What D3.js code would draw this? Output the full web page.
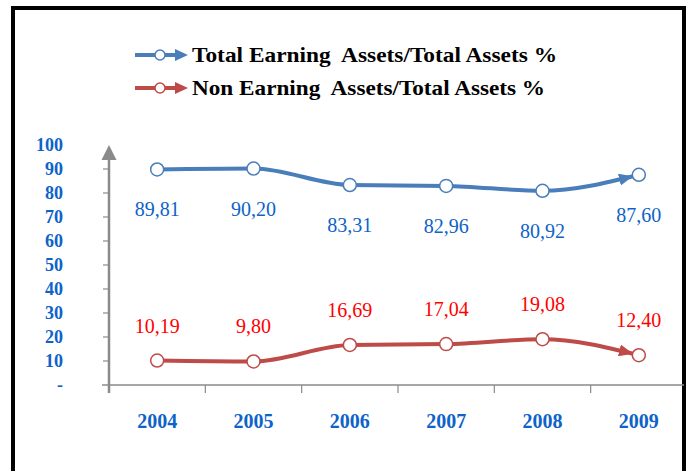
<!DOCTYPE html>
<html>
<head>
<meta charset="utf-8">
<script src="https://cdn.jsdelivr.net/npm/d3@7"></script>
<style>
  html, body { margin: 0; padding: 0; background: #fff; }
  svg { display: block; }
  svg text { font-family: "Liberation Serif", "DejaVu Serif", "Times New Roman", Times, serif; }
</style>
</head>
<body>
<svg id="chart" width="688" height="471"></svg>
<script>
const years = ["2004", "2005", "2006", "2007", "2008", "2009"];
const earning = [89.81, 90.20, 83.31, 82.96, 80.92, 87.60];
const nonEarning = [10.19, 9.80, 16.69, 17.04, 19.08, 12.40];
const seriesNames = ["Total Earning  Assets/Total Assets %", "Non Earning  Assets/Total Assets %"];
const yTicks = [0, 10, 20, 30, 40, 50, 60, 70, 80, 90, 100];

const blue = "#4a7ebb", red = "#be4b48";
const blueText = "#0d63c8", redText = "#ff0000";

const svg = d3.select("#chart");

// frame
svg.append("rect").attr("x", 13).attr("y", 8).attr("width", 671).attr("height", 500)
  .attr("fill", "#fff").attr("stroke", "#000").attr("stroke-width", 4);

const x = d3.scaleBand().domain(years).range([109, 687]);
const y = d3.scaleLinear().domain([0, 100]).range([385, 145]);
const cx = d => x(d) + x.bandwidth() / 2;

const axisColor = "#8a8a8a";
// x axis
svg.append("line").attr("x1", 102).attr("x2", 684).attr("y1", y(0)).attr("y2", y(0))
  .attr("stroke", axisColor).attr("stroke-width", 1.5);
svg.selectAll(".xt").data(years).enter().append("line")
  .attr("x1", d => x(d)).attr("x2", d => x(d)).attr("y1", y(0)).attr("y2", y(0) + 8)
  .attr("stroke", axisColor).attr("stroke-width", 1.2);
svg.selectAll(".xl").data(years).enter().append("text")
  .attr("x", d => cx(d)).attr("y", 428).attr("text-anchor", "middle")
  .attr("font-weight", "bold").attr("font-size", 20)
  .attr("fill", blueText).text(d => d);

// y axis
svg.append("line").attr("x1", 109).attr("x2", 109).attr("y1", y(0) + 8).attr("y2", y(100) + 12)
  .attr("stroke", axisColor).attr("stroke-width", 2.5);
svg.append("path")
  .attr("d", `M109,${y(100)} L116.5,${y(100) + 15} L101.5,${y(100) + 15} Z`)
  .attr("fill", axisColor);
svg.selectAll(".yt").data(yTicks.slice(1, -1)).enter().append("line")
  .attr("x1", 103).attr("x2", 109).attr("y1", d => y(d)).attr("y2", d => y(d))
  .attr("stroke", axisColor).attr("stroke-width", 1.2);
svg.selectAll(".yl").data(yTicks).enter().append("text")
  .attr("x", 63).attr("y", d => y(d)).attr("dy", "0.35em").attr("text-anchor", "end")
  .attr("font-weight", "bold").attr("font-size", 18)
  .attr("fill", blueText).text(d => d === 0 ? "-" : d);

// arrow markers
const defs = svg.append("defs");
[["arrBlue", blue], ["arrRed", red]].forEach(([id, c]) => {
  defs.append("marker").attr("id", id).attr("markerUnits", "userSpaceOnUse")
    .attr("viewBox", "0 0 14 12").attr("markerWidth", 14).attr("markerHeight", 12)
    .attr("refX", 20).attr("refY", 6).attr("orient", "auto")
    .append("path").attr("d", "M0,0 L14,6 L0,12 Z").attr("fill", c);
});

const line = d3.line().x(d => cx(d.k)).y(d => y(d.v)).curve(d3.curveMonotoneX);

function drawSeries(vals, color, textColor, marker, labelOffset) {
  const pts = years.map((k, i) => ({ k, v: vals[i] }));
  svg.append("path").datum(pts).attr("d", line).attr("fill", "none")
    .attr("stroke", color).attr("stroke-width", 4).attr("marker-end", `url(#${marker})`);
  svg.selectAll(null).data(pts).enter().append("circle")
    .attr("cx", d => cx(d.k)).attr("cy", d => y(d.v)).attr("r", 6.5)
    .attr("fill", "#fff").attr("stroke", color).attr("stroke-width", 1.5);
  svg.selectAll(null).data(pts).enter().append("text")
    .attr("x", d => cx(d.k)).attr("y", d => y(d.v) + labelOffset).attr("dy", "0.35em")
    .attr("text-anchor", "middle").attr("font-size", 20)
    .attr("fill", textColor).text(d => d.v.toFixed(2).replace(".", ","));
}
drawSeries(earning, blue, blueText, "arrBlue", 40);
drawSeries(nonEarning, red, redText, "arrRed", -35);

// legend
const legend = [
  { name: seriesNames[0], color: blue, y: 55, len: 365 },
  { name: seriesNames[1], color: red, y: 88, len: 353 }
];
legend.forEach(l => {
  const g = svg.append("g");
  g.append("line").attr("x1", 135).attr("x2", 176).attr("y1", l.y).attr("y2", l.y)
    .attr("stroke", l.color).attr("stroke-width", 4);
  g.append("path").attr("d", `M175,${l.y - 6} L188,${l.y} L175,${l.y + 6} Z`).attr("fill", l.color);
  g.append("circle").attr("cx", 160).attr("cy", l.y).attr("r", 5)
    .attr("fill", "#fff").attr("stroke", l.color).attr("stroke-width", 1.5);
  g.append("text").attr("x", 192).attr("y", l.y + 7)
    .attr("font-weight", "bold").attr("font-size", 22)
    .attr("textLength", l.len).attr("lengthAdjust", "spacingAndGlyphs")
    .attr("fill", "#000").style("white-space", "pre").text(l.name);
});
</script>
</body>
</html>
